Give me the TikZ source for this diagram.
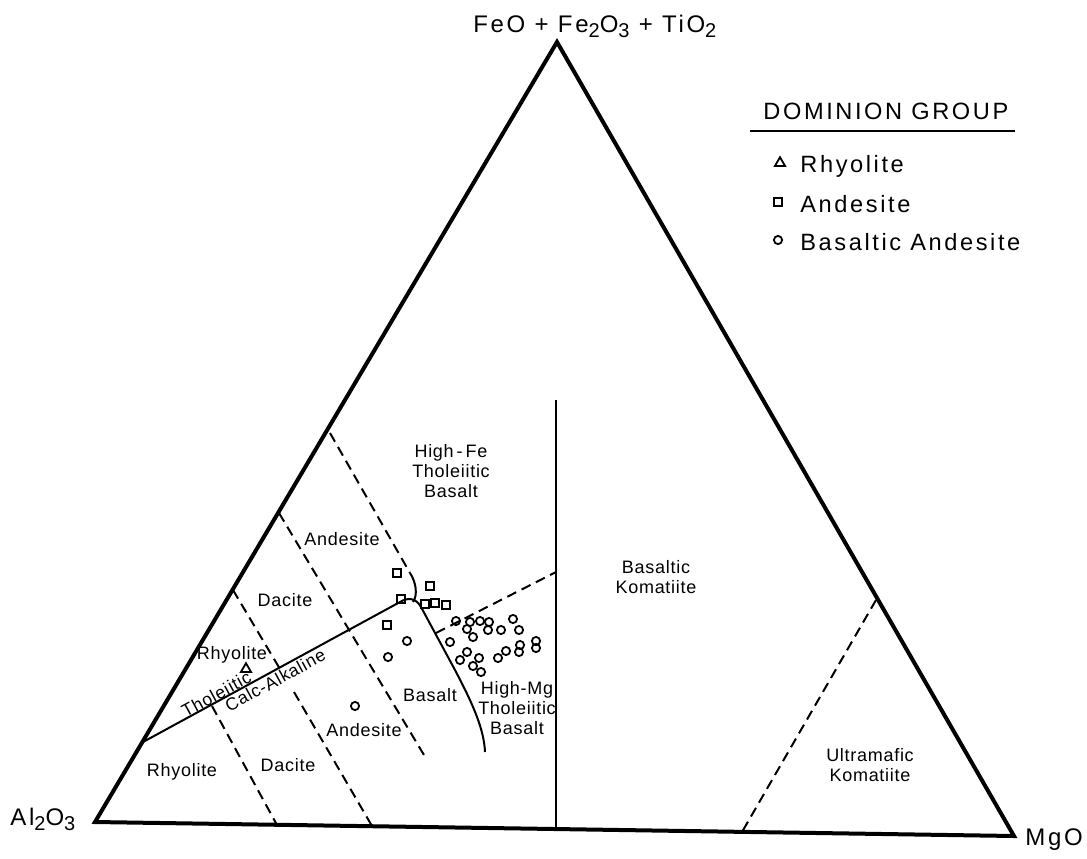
\documentclass[tikz,border=0pt]{standalone}
\usepackage{fontspec}
\setmainfont{Liberation Sans}
\newfontfamily\widefont[LetterSpace=11]{Liberation Sans}
\newfontfamily\fieldfont[LetterSpace=4]{Liberation Sans}
\usepackage{tikz}
\usetikzlibrary{shapes.geometric}
\newcommand{\chemsub}[1]{\raisebox{-0.45ex}{\fontsize{10}{10}\selectfont #1}}

\begin{document}
\begin{tikzpicture}[x=0.5pt,y=-0.5pt,
    edge/.style={line width=2pt,line join=miter},
    boundary/.style={line width=1pt},
    divider/.style={line width=1pt,dash pattern=on 5pt off 3pt},
    field/.style={font=\fieldfont\fontsize{9}{10}\selectfont,align=center,inner sep=0pt},
    trend/.style={font=\fieldfont\fontsize{8.8}{10}\selectfont,rotate=28.6,inner sep=1pt},
    corner/.style={font=\widefont\fontsize{12}{14}\selectfont,inner sep=0pt,anchor=base west},
    legend/.style={font=\widefont\fontsize{11.8}{14}\selectfont,inner sep=0pt,anchor=base west},
    sample/.style={draw,line width=0.9pt,inner sep=0pt},
    andesite/.style={sample,rectangle,minimum size=3.9pt},
    basand/.style={sample,circle,minimum size=4.1pt},
    rhyolite/.style={sample,regular polygon,regular polygon sides=3,minimum size=5.8pt}]
    \useasboundingbox (0,0) rectangle (1087,858);

    % The ternary triangle
    \coordinate (al) at (95,822);
    \coordinate (fe) at (557,42);
    \coordinate (mg) at (1014,836);
    \draw[edge] (al) -- (fe) -- (mg) -- cycle;
    \node[corner] (feo) at (473,32) {FeO + Fe\chemsub{2}O\chemsub{3} + TiO\chemsub{2}};
    \node[corner] (alo) at (10,825) {Al\chemsub{2}O\chemsub{3}};
    \node[corner] (mgo) at (1025,845) {MgO};

    % Field boundaries
    \draw[boundary] (143,742) -- (400,602) .. controls (408,597) and (416,598) .. (421,607)
        -- (455,670) .. controls (474,706) and (484,730) .. (485,752);
    \draw[divider] (330,433) -- (410,573);
    \draw[boundary] (410,573) .. controls (416,582) and (418,595) .. (413,602);
    \draw[divider] (279,513) -- (427,760);
    \draw[divider] (233,590) -- (280,669);
    \draw[divider] (294,692) -- (372,826);
    \draw[divider] (212,706) -- (277,825);
    \draw[divider] (436,633) -- (556,572);
    \draw[boundary] (556,400) -- (556,829);
    \draw[divider] (876,600) -- (742,832);

    % Field names
    \node[field] (rhyu) at (232,655) {Rhyolite};
    \node[field] (dacu) at (285,600) {Dacite};
    \node[field] (andu) at (342,539) {Andesite};
    \node[field] (rhyl) at (182,772) {Rhyolite};
    \node[field] (dacl) at (288,765) {Dacite};
    \node[field] (andl) at (364,730) {Andesite};
    \node[field] (bas) at (430,695) {Basalt};
    \node[field] (hfe) at (451,471) {High\,-\,Fe\\Tholeiitic\\Basalt};
    \node[field] (hmg) at (517,708) {High-Mg\\Tholeiitic\\Basalt};
    \node[field] (bk) at (656,577) {Basaltic\\Komatiite};
    \node[field] (uk) at (870,765) {Ultramafic\\Komatiite};
    \node[trend,anchor=south,inner sep=0.5pt] (thol) at (220,701) {Tholeiitic};
    \node[trend,anchor=north] (calc) at (271,672.5) {Calc-Alkaline};

    % Samples
    \node[rhyolite] (rh1) at (246,669) {};
    \foreach \x/\y [count=\i] in {397/573, 430/586, 401/599, 425/604, 435/603, 446/605, 387/625}
      \node[andesite] (an\i) at (\x,\y) {};
    \foreach \x/\y [count=\i] in {456/621, 470/622, 480/621, 489/622, 467/629, 488/630,
        473/637, 501/630, 513/619, 519/630, 450/642, 467/652, 460/660, 479/658, 473/666,
        481/672, 498/658, 506/651, 520/645, 519/652, 536/641, 536/648, 407/641, 388/657, 355/706}
      \node[basand] (ba\i) at (\x,\y) {};

    % Legend
    \node[legend] (dom) at (763,119) {DOMINION GROUP};
    \draw[boundary] ([xshift=-6.5pt,yshift=-5.5pt]dom.south west) -- ([xshift=3pt,yshift=-5.5pt]dom.south east);
    \node[rhyolite] (lgrh) at (780,163) {};
    \node[legend] (lgrht) at (800,172) {Rhyolite};
    \node[andesite] (lgan) at (778,202) {};
    \node[legend] (lgant) at (800,212) {Andesite};
    \node[basand] (lgba) at (778,240) {};
    \node[legend] (lgbat) at (800,250) {Basaltic Andesite};
\end{tikzpicture}
\end{document}
